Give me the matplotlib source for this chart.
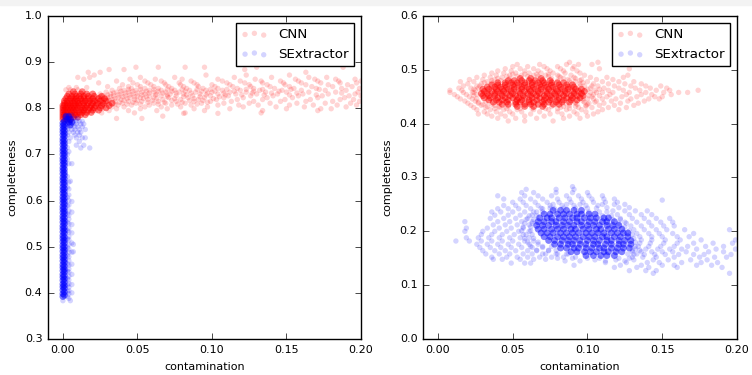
import numpy as np
import matplotlib
matplotlib.use("Agg")
import matplotlib.pyplot as plt
from matplotlib.patches import Rectangle

# all values in units of 0.001 (contamination, completeness)
# rows: (completeness, [contamination, ...]) ; cols: (contamination, [completeness, ...])

## left panel, CNN
cnn_left_dense = [
    (776, [0, 2, 5]),
    (781, [0, 2, 4, 7, 10]),
    (786, [0, 1, 3, 5, 8, 9, 12, 15]),
    (791, [0, 2, 4, 6, 8, 11, 13, 16, 19]),
    (796, [0, 1, 3, 5, 7, 9, 12, 14, 17, 20, 24]),
    (801, [0, 2, 4, 6, 8, 10, 13, 15, 18, 21, 25, 29]),
    (806, [0, 1, 3, 5, 7, 9, 11, 14, 16, 19, 22, 26, 31]),
    (811, [1, 3, 5, 7, 10, 11, 14, 17, 20, 23, 27, 33]),
    (816, [1, 3, 6, 8, 10, 13, 15, 18, 21, 25, 29]),
    (821, [2, 5, 7, 9, 12, 14, 17, 20, 24, 28]),
    (826, [3, 6, 9, 11, 14, 17, 21, 26]),
    (831, [4, 8, 12, 16, 20]),
    (836, [7, 13]),
]
cnn_left_light = [
    (770, [1, 4]),
    (778, [36, 53]),
    (783, [67]),
    (789, [81, 104]),
    (790, [26, 48, 82, 133]),
    (795, [22, 31, 44, 63, 95, 134, 171]),
    (799, [20, 27, 36, 52, 70, 88, 112, 150, 173, 180]),
    (803, [19, 24, 33, 41, 55, 66, 79, 97, 121, 143, 162, 190]),
    (807, [21, 28, 37, 46, 58, 73, 86, 104, 118, 131, 152, 168, 184, 197]),
    (809, [24, 35, 43, 52, 64, 77, 90]),
    (811, [18, 25, 31, 40, 49, 61, 69, 82, 93, 108, 125, 139, 157, 176, 193]),
    (813, [27, 38, 47, 57, 68, 80, 97]),
    (815, [22, 29, 35, 44, 53, 64, 76, 88, 99, 113, 128, 146, 163, 181, 199]),
    (817, [23, 31, 41, 50, 60, 73, 85, 94]),
    (819, [19, 26, 33, 39, 48, 57, 67, 79, 91, 103, 117, 134, 149, 166, 186, 195]),
    (821, [28, 35, 43, 54, 63, 75, 88, 101]),
    (823, [23, 30, 37, 45, 52, 61, 71, 84, 95, 108, 121, 137, 154, 171, 189]),
    (825, [25, 32, 40, 48, 56, 70, 81, 92, 105]),
    (827, [27, 34, 42, 50, 58, 66, 76, 87, 99, 111, 126, 141, 158, 174, 192, 200]),
    (829, [30, 37, 45, 53, 62, 70, 83, 96, 109, 120, 135, 152, 170]),
    (831, [25, 32, 39, 47, 55, 63, 72, 81, 92, 104, 116, 130, 144, 161, 178, 196]),
    (833, [34, 42, 50, 58, 67, 76, 86, 97, 108, 127, 140, 157, 187]),
    (835, [29, 36, 44, 53, 61, 69, 78, 89, 100, 112, 123, 136, 150, 165, 183, 198]),
    (837, [39, 47, 56, 64, 73, 82, 93, 102, 115, 128, 145]),
    (839, [33, 41, 49, 58, 66, 75, 85, 96, 107, 119, 132, 147, 160, 176, 190]),
    (840, [2, 5, 10]),
    (841, [44, 52, 61, 70, 80, 90, 99, 110, 123, 134, 153, 172]),
    (843, [38, 46, 55, 64, 73, 83, 94, 104, 117, 128, 142, 155, 170, 187, 199]),
    (845, [4, 9, 16]),
    (847, [30, 44, 52, 61, 71, 81, 91, 102, 114, 126, 139, 152, 167, 181, 194]),
    (851, [40, 50, 59, 69, 79, 90, 100, 112, 125, 137, 149, 163, 178, 191]),
    (855, [24, 47, 57, 68, 78, 88, 110, 122, 134, 148, 160, 173, 186, 197]),
    (859, [36, 55, 66, 86, 107, 119, 133, 146, 158, 171, 185, 200]),
    (863, [14, 45, 62, 80, 104, 129, 156, 169, 183, 196]),
    (867, [10, 18, 52, 75, 115, 140, 165, 177]),
    (872, [21, 96, 123, 152]),
    (878, [17, 25, 163]),
    (884, [31, 41, 122]),
    (889, [49, 64, 82, 95, 130, 188]),
]

## left panel, SExtractor
sex_left_dense_cols = [
    (0, [392, 398, 406, 413, 419, 427, 434, 440, 448, 455, 461, 469, 476, 482,
         490, 497, 503, 511, 518, 524, 532, 539, 545, 553, 560, 566, 574, 581,
         587, 595, 602, 608, 616, 623, 629, 637, 644, 650, 658, 665, 671, 679,
         686, 692, 700, 707, 713, 721, 728, 734, 742, 749, 755, 762, 768]),
    (1, [395, 402, 410, 416, 423, 430, 437, 445, 451, 458, 466, 472, 479, 487,
         493, 500, 508, 514, 521, 529, 535, 542, 550, 556, 563, 571, 577, 584,
         592, 598, 605, 613, 619, 626, 634, 640, 647, 655, 661, 668, 676, 682,
         689, 697, 703, 710, 718, 724, 731, 739, 745, 752, 759, 765, 772]),
]
sex_left_dense = [
    (764, [5]),
    (770, [4, 6]),
    (776, [3, 5]),
    (782, [2, 4]),
]
sex_left_light_cols = [
    (4, [388, 398, 405, 412, 420, 428, 436, 445, 452, 460, 470, 478, 488, 495,
         505, 515, 522, 532, 540, 550, 560, 568, 578, 590, 600, 612, 625, 640, 680]),
    (3, [392, 403, 417, 431, 447, 463, 481, 499, 517, 535, 553, 571, 589, 607,
         629, 652, 690, 715]),
    (6, [400, 418, 440, 462, 488, 508, 530, 548, 575, 598]),
    (7, [489, 505]),
    (0, [383]),
    (5, [383, 642]),
]
sex_left_light = [
    (680, [6]),
    (700, [3]),
    (706, [4]),
    (714, [12, 18]),
    (720, [9, 14]),
    (728, [4, 11]),
    (736, [5, 9, 13, 15]),
    (742, [3, 8, 11]),
    (748, [4, 7, 10, 12]),
    (754, [3, 6, 8, 11, 15]),
    (760, [3, 5, 8, 10, 13]),
    (766, [3, 5, 7, 9, 12, 14]),
    (772, [3, 5, 7, 9, 11, 13]),
    (778, [2, 4, 6, 8, 10]),
    (785, [2, 4, 6]),
]

## right panel, CNN
cnn_right_dense = [
    (432, [53, 58, 64, 70]),
    (436, [43, 47, 52, 58, 62, 67, 71, 77, 81]),
    (440, [37, 41, 46, 52, 55, 61, 64, 70, 74, 79, 83, 88]),
    (444, [34, 39, 43, 47, 53, 56, 61, 66, 71, 75, 80, 84, 89, 93]),
    (448, [31, 35, 40, 45, 50, 54, 58, 63, 68, 72, 76, 81, 86, 90, 95]),
    (452, [30, 34, 38, 43, 48, 52, 57, 62, 66, 71, 75, 79, 84, 89, 93, 97]),
    (456, [29, 33, 38, 42, 46, 50, 55, 60, 64, 68, 73, 78, 82, 86, 91, 96]),
    (460, [31, 36, 40, 44, 49, 54, 58, 62, 67, 72, 76, 80, 85, 90, 94, 98]),
    (464, [30, 34, 39, 43, 47, 51, 56, 61, 65, 69, 74, 79, 83, 87, 92, 96]),
    (468, [33, 38, 42, 46, 51, 56, 60, 64, 69, 73, 77, 82, 87, 91]),
    (472, [36, 40, 45, 50, 54, 58, 63, 68, 72, 76, 81, 86, 90]),
    (476, [40, 45, 49, 53, 58, 63, 67, 71, 76, 80, 84]),
    (480, [47, 51, 56, 61, 65, 70, 75]),
    (484, [55, 62, 69]),
]
cnn_right_light = [
    (405, [47, 58, 77]),
    (410, [40, 52, 66, 84, 95]),
    (414, [36, 45, 58, 71, 88, 100]),
    (418, [27, 33, 42, 50, 62, 75, 83, 93, 104]),
    (422, [31, 39, 48, 56, 68, 80, 91, 99, 107]),
    (426, [26, 35, 44, 53, 64, 74, 86, 96, 110, 121]),
    (428, [38, 46, 55, 63, 72, 80, 88]),
    (430, [24, 32, 41, 82, 94, 103, 114, 126]),
    (432, [33, 41, 47, 76, 84, 92, 99]),
    (434, [22, 29, 38, 88, 99, 108, 118, 131]),
    (436, [30, 36, 86, 93, 100]),
    (438, [20, 27, 92, 101, 111, 122, 134]),
    (440, [27, 32, 92, 98, 105]),
    (442, [18, 25, 97, 106, 116, 127, 138]),
    (446, [15, 23, 26, 97, 100, 104, 110, 119, 129, 141, 148]),
    (450, [13, 21, 103, 113, 123, 133, 145, 150]),
    (452, [24, 101, 108]),
    (454, [11, 19, 26, 104, 115, 126, 136, 143, 156]),
    (458, [8, 17, 23, 24, 102, 106, 110, 117, 128, 139, 151, 161, 167]),
    (462, [8, 16, 25, 105, 114, 124, 135, 146, 155, 174]),
    (464, [24, 100, 108]),
    (466, [14, 22, 27, 102, 111, 121, 132, 142, 153]),
    (470, [17, 26, 28, 95, 98, 103, 107, 118, 129, 139, 149]),
    (474, [20, 29, 95, 104, 114, 125, 136]),
    (476, [31, 36, 89, 97]),
    (478, [15, 24, 33, 92, 100, 110, 121, 131]),
    (480, [36, 42, 80, 88, 95]),
    (482, [21, 30, 38, 87, 96, 106, 117]),
    (484, [40, 48, 76, 84, 92]),
    (486, [26, 35, 43, 82, 91, 102, 113, 124]),
    (488, [46, 53, 60, 67, 74, 81]),
    (490, [31, 39, 48, 56, 64, 72, 80, 89, 98, 127]),
    (492, [50, 58, 66, 74]),
    (494, [36, 44, 52, 61, 69, 77, 85, 95]),
    (498, [40, 49, 58, 67, 75, 84, 93]),
    (502, [45, 55, 64, 73, 82, 90, 108, 128]),
    (506, [50, 60, 71, 80, 91]),
    (510, [53, 68, 86, 94, 103]),
    (514, [88, 107]),
]

## right panel, SExtractor
sex_right_dense = [
    (155, [99, 104, 109, 113, 118]),
    (162, [89, 93, 98, 102, 106, 111, 114, 119, 123]),
    (169, [82, 86, 91, 94, 99, 103, 108, 111, 116, 120, 124, 128]),
    (176, [78, 82, 87, 90, 95, 99, 104, 107, 112, 116, 121, 124, 129]),
    (183, [74, 78, 83, 87, 91, 95, 100, 104, 108, 113, 116, 121, 125, 129]),
    (190, [71, 75, 80, 84, 88, 92, 97, 101, 105, 110, 113, 118, 122, 127]),
    (197, [69, 73, 77, 82, 86, 90, 94, 99, 103, 107, 111, 116, 120, 124, 127]),
    (204, [67, 71, 76, 80, 84, 89, 92, 97, 101, 106, 109, 114, 118, 123]),
    (211, [66, 70, 74, 79, 83, 87, 91, 96, 100, 104, 108, 113, 117, 121]),
    (218, [67, 71, 76, 79, 84, 88, 93, 96, 101, 105, 110, 113, 118]),
    (225, [68, 73, 76, 81, 85, 90, 93, 98, 102, 106, 111, 114]),
    (232, [71, 75, 80, 84, 88, 93, 96, 101, 105]),
    (239, [77, 82, 86, 91, 96]),
]
sex_right_light = [
    (122, [144, 195]),
    (127, [128, 139, 146]),
    (133, [118, 133, 141, 160, 190]),
    (137, [91, 122, 136, 150, 158, 173, 183]),
    (141, [49, 58, 62]),
    (142, [112, 126, 140, 148, 163, 176, 187]),
    (145, [85, 95, 112, 125]),
    (147, [105, 119, 131, 144, 154, 169, 180]),
    (148, [37, 43, 55, 64, 72]),
    (150, [80, 90, 100, 108, 121, 128]),
    (152, [36, 46, 53, 60, 68, 76, 84, 92, 130, 137, 146, 158, 175, 185, 193]),
    (157, [131, 138, 145, 152, 161, 171, 178, 196]),
    (158, [32, 41, 48, 57, 63, 70, 72, 79, 80, 86, 87, 127, 133]),
    (162, [130, 136, 143, 150, 157, 166, 181, 191]),
    (164, [30, 38, 45, 52, 60, 66, 74]),
    (165, [66, 74, 79, 130, 135]),
    (167, [132, 139, 147, 155, 163, 173, 186, 199]),
    (170, [28, 35, 42, 49, 56, 63, 70]),
    (172, [62, 70, 76, 132, 134, 141, 149, 158, 167, 179, 191]),
    (176, [26, 33, 40, 47, 54, 61, 67]),
    (178, [135, 142, 151, 160, 171, 184, 197]),
    (180, [60, 67, 132]),
    (182, [12, 21, 29, 36, 43, 50, 58, 64]),
    (184, [136, 143, 152, 162, 176, 199]),
    (187, [58, 64, 131]),
    (188, [19, 27, 34, 41, 48, 55, 61]),
    (190, [135, 143, 150, 160, 168]),
    (194, [29, 36, 43, 51, 57, 59, 63, 130]),
    (196, [133, 141, 148, 157, 171]),
    (200, [18, 30, 38, 46, 54, 61]),
    (201, [56, 62, 128]),
    (203, [131, 138, 146, 153, 165, 195]),
    (206, [19, 33, 41, 49, 57]),
    (208, [57, 62, 125]),
    (210, [129, 136, 143, 151, 158]),
    (212, [37, 45, 53, 61]),
    (215, [58, 63, 121, 126]),
    (217, [125, 133, 141, 149, 157]),
    (218, [18, 40, 48, 56, 63]),
    (222, [59, 64, 117, 122]),
    (224, [35, 44, 52, 60, 122, 130, 138, 146, 155]),
    (229, [61, 66, 110, 116]),
    (230, [38, 47, 55, 63]),
    (231, [120, 128, 136, 143]),
    (236, [36, 42, 50, 58, 64, 66, 70, 101, 108, 113]),
    (238, [117, 125, 132, 140]),
    (242, [40, 47, 54, 62, 70, 78]),
    (243, [69, 75, 84, 92, 100, 106]),
    (244, [113, 121, 128]),
    (248, [44, 52, 59, 67, 75, 83, 91, 99, 107]),
    (250, [77, 86, 95, 110, 118, 125]),
    (254, [50, 57, 65, 73, 81, 89, 97, 104, 112, 120]),
    (258, [150]),
    (260, [44, 55, 62, 70, 80, 88, 96, 103, 111, 118]),
    (266, [40, 58, 67, 76, 86, 94, 101, 110]),
    (272, [56, 64, 79, 90, 100]),
    (278, [59, 79, 91]),
    (283, [90]),
]


def from_rows(rows):
    x = [c for y, xs in rows for c in xs]
    y = [y for y, xs in rows for c in xs]
    return np.array(x) / 1000.0, np.array(y) / 1000.0


def from_cols(cols):
    x = [x for x, ys in cols for c in ys]
    y = [c for x, ys in cols for c in ys]
    return np.array(x) / 1000.0, np.array(y) / 1000.0


def join(*parts):
    return (np.concatenate([p[0] for p in parts]),
            np.concatenate([p[1] for p in parts]))


plt.style.use('classic')
plt.rcParams.update({
    'font.size': 8,
    'legend.fontsize': 9.6,
    'figure.facecolor': 'white',
    'savefig.facecolor': 'white',
})

S_DENSE = 24
S_LIGHT = 15
A_DENSE = 0.5
A_LIGHT = 0.17

fig = plt.figure(figsize=(7.52, 3.75), dpi=100)
fig.patches.append(Rectangle((0, 1 - 5 / 375.), 1, 5 / 375., transform=fig.transFigure,
                             color='#f3f3f3', zorder=-1))
ax1 = fig.add_axes([48 / 752., 36 / 375., 313 / 752., 323 / 375.])
ax2 = fig.add_axes([423 / 752., 36 / 375., 314 / 752., 323 / 375.])

panels = [
    (ax1, from_rows(cnn_left_dense), from_rows(cnn_left_light),
     join(from_cols(sex_left_dense_cols), from_rows(sex_left_dense)),
     join(from_cols(sex_left_light_cols), from_rows(sex_left_light)), (0.3, 1.0)),
    (ax2, from_rows(cnn_right_dense), from_rows(cnn_right_light),
     from_rows(sex_right_dense), from_rows(sex_right_light), (0.0, 0.6)),
]

for ax, cd, cl, sd, sl, ylim in panels:
    ax.scatter(cd[0], cd[1], s=S_DENSE, c='red', alpha=A_DENSE, edgecolors='none')
    ax.scatter(cl[0], cl[1], s=S_LIGHT, c='red', alpha=A_LIGHT, edgecolors='none', label='CNN')
    ax.scatter(sd[0], sd[1], s=S_DENSE, c='blue', alpha=A_DENSE, edgecolors='none')
    ax.scatter(sl[0], sl[1], s=S_LIGHT, c='blue', alpha=A_LIGHT, edgecolors='none', label='SExtractor')
    ax.set_xlim(-0.01, 0.2)
    ax.set_ylim(*ylim)
    ax.set_xticks([0.0, 0.05, 0.1, 0.15, 0.2])
    ax.set_xlabel('contamination')
    ax.set_ylabel('completeness')
    ax.legend(loc='upper right', scatterpoints=3)

fig.savefig('out.png', dpi=100)
